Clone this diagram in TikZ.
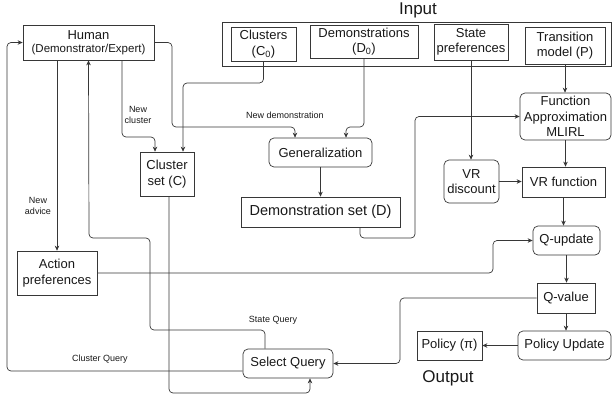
\documentclass[tikz,border=0pt]{standalone}
\usepackage{fontspec}
\setmainfont{Liberation Sans}
\usetikzlibrary{arrows.meta,positioning}
\definecolor{LineGray}{RGB}{55,55,55}
\definecolor{TextBlack}{RGB}{25,25,25}

\begin{document}
\begin{tikzpicture}[x=1pt,y=-1pt,>={Stealth[length=5pt,width=4.5pt]},
    box/.style={draw=LineGray,line width=0.7pt,fill=white,text=TextBlack,align=center,inner sep=1pt,font=\fontsize{13}{15.5}\selectfont},
    rbox/.style={box,rounded corners=5pt},
    conn/.style={LineGray,line width=0.7pt,rounded corners=4pt,->},
    lbl/.style={font=\fontsize{9}{10.5}\selectfont,text=TextBlack,align=center},
    title/.style={font=\fontsize{17}{19}\selectfont,text=TextBlack}]
      \useasboundingbox (0,0) rectangle (612,397);
      \node[title] (input) at (418,10) {Input};
      \node[title] (output) at (448,378) {Output};
      \draw[LineGray,line width=0.7pt] (222,22) rectangle (611.5,66);

      \node[box,minimum width=131,minimum height=35] (human) at (88.5,42.5)
        {Human\\[-2pt]{\fontsize{11.5}{13}\selectfont(Demonstrator/Expert)}};
      \node[box,minimum width=65,minimum height=34] (c0) at (263.5,44) {Clusters\\(C\textsubscript{0})};
      \node[box,minimum width=108,minimum height=33] (d0) at (364,41.5) {Demonstrations\\(D\textsubscript{0})};
      \node[box,minimum width=74,minimum height=36] (sp) at (471,42) {State\\preferences};
      \node[box,minimum width=80,minimum height=37] (tm) at (565,45.5) {Transition\\model (P)};
      \node[rbox,minimum width=91,minimum height=47] (fa) at (565.5,116.5) {Function\\Approximation\\MLIRL};
      \node[rbox,minimum width=55,minimum height=43] (vrd) at (471.5,181.5) {VR\\discount};
      \node[box,minimum width=83,minimum height=30] (vrf) at (563.5,182) {VR function};
      \node[rbox,minimum width=67,minimum height=29] (qup) at (566.5,240.5) {Q-update};
      \node[box,minimum width=58,minimum height=30] (qval) at (566,298) {Q-value};
      \node[rbox,minimum width=93,minimum height=29] (pu) at (564.5,345.5) {Policy Update};
      \node[box,minimum width=65,minimum height=29] (pol) at (449.5,345.5) {Policy (π)};
      \node[rbox,minimum width=90,minimum height=29] (sel) at (288,363.5) {Select Query};
      \node[rbox,minimum width=103,minimum height=29] (gen) at (320.5,152.5) {Generalization};
      \node[box,minimum width=159,minimum height=30,font=\fontsize{14.5}{16}\selectfont] (dset) at (320.5,212) {Demonstration set (D)};
      \node[box,minimum width=54,minimum height=44] (cset) at (167,174) {Cluster\\set (C)};
      \node[box,minimum width=80,minimum height=44] (apref) at (57,273) {Action\\preferences};

      \draw[conn] (human.east) -| (172,127) -| ([xshift=-25.5]gen.north);
      \node[lbl] (newdemo) at (285,115) {New demonstration};
      \draw[conn] (c0.south) |- (183,83) -- ([xshift=16]cset.north);
      \draw[conn] (d0.south) |- (346,127) -- ([xshift=25.5]gen.north);
      \draw[conn] (gen.south) -- (dset.north);
      \draw[conn] ([xshift=33.5]human.south) |- (155,137) -- ([xshift=-12]cset.north);
      \node[lbl] (newclus) at (138,115) {New\\cluster};
      \draw[conn] ([xshift=-31.5]human.south) -- (apref.north);
      \node[lbl] (newadv) at (38,206) {New\\advice};
      \draw[conn] ([xshift=-23]sel.north) |- (150,330) |- (89,238) -- (human.south);
      \node[lbl] (stateq) at (273,320) {State Query};
      \draw[conn] ([yshift=-7.5]sel.west) -| (7,42.5) -- (human.west);
      \node[lbl] (clusq) at (100,359) {Cluster Query};
      \draw[conn] ([xshift=2]cset.south) |- (310,393) -- ([xshift=22]sel.south);
      \draw[conn] (apref.east) -| (493,240.5) -- (qup.west);
      \draw[conn] ([xshift=39.5]dset.south) |- (415,238) |- (fa.west);
      \draw[conn] (sp.south) -- (sp.south |- vrd.north);
      \draw[conn] (tm.south) -- (tm.south |- fa.north);
      \draw[conn] (fa.south) -- (fa.south |- vrf.north);
      \draw[conn] (vrd.east) -- (vrd.east -| vrf.west);
      \draw[conn] (vrf.south) -- (vrf.south |- qup.north);
      \draw[conn] (qup.south) -- (qup.south |- qval.north);
      \draw[conn] (qval.south) -- (qval.south |- pu.north);
      \draw[conn] (pu.west) -- (pol.east);
      \draw[conn] (qval.west) -| (400,363.5) -- (sel.east);
    \end{tikzpicture}
\end{document}
